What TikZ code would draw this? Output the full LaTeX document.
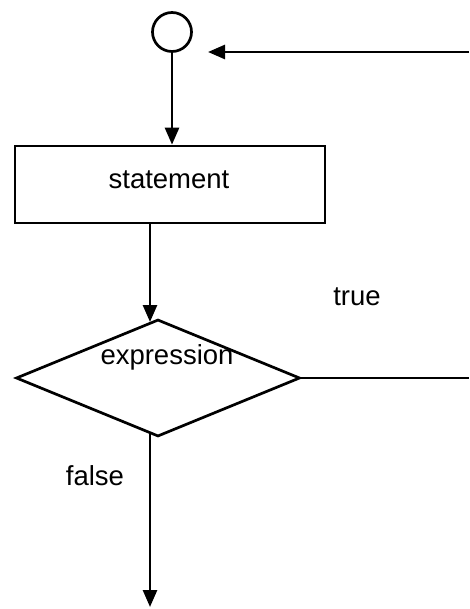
\documentclass[tikz,border=0pt]{standalone}
\usepackage{fontspec}
\setmainfont{Liberation Sans}
\usetikzlibrary{shapes.geometric,arrows.meta}
\begin{document}
\begin{tikzpicture}[x=1pt,y=-1pt,
  line/.style={line width=2.7pt},
  arr/.style={line, -{Triangle[length=17pt,width=14pt]}},
  lbl/.style={font=\fontsize{27.5}{30}\selectfont, inner sep=0pt}]
\useasboundingbox (0,0) rectangle (469,609);
\node[draw, line, circle, minimum size=39pt, inner sep=0pt] (c) at (172,32) {};
\node[draw, line, rectangle, minimum width=310pt, minimum height=77pt, inner sep=0pt] (s) at (170,184.5) {};
\node[lbl] (st) at (169,180) {statement};
\node[draw, line, diamond, minimum width=284pt, minimum height=117pt, inner sep=0pt] (d) at (158,378) {};
\node[lbl] (ex) at (167,357) {expression};
\node[lbl] (t) at (357,297) {true};
\node[lbl] (f) at (95,476) {false};
\coordinate (rin) at (469,52);
\coordinate (tip) at (208,52);
\coordinate (rout) at (469,378);
\coordinate (sb) at (150,223);
\coordinate (dt) at (150,322);
\coordinate (db) at (150,434);
\coordinate (end) at (150,607);
\draw[arr] (rin) -- (tip);
\draw[arr] (c.south) -- (c.south |- s.north);
\draw[arr] (sb) -- (dt);
\draw[line] (d.east) -- (rout);
\draw[arr] (db) -- (end);
\end{tikzpicture}
\end{document}
